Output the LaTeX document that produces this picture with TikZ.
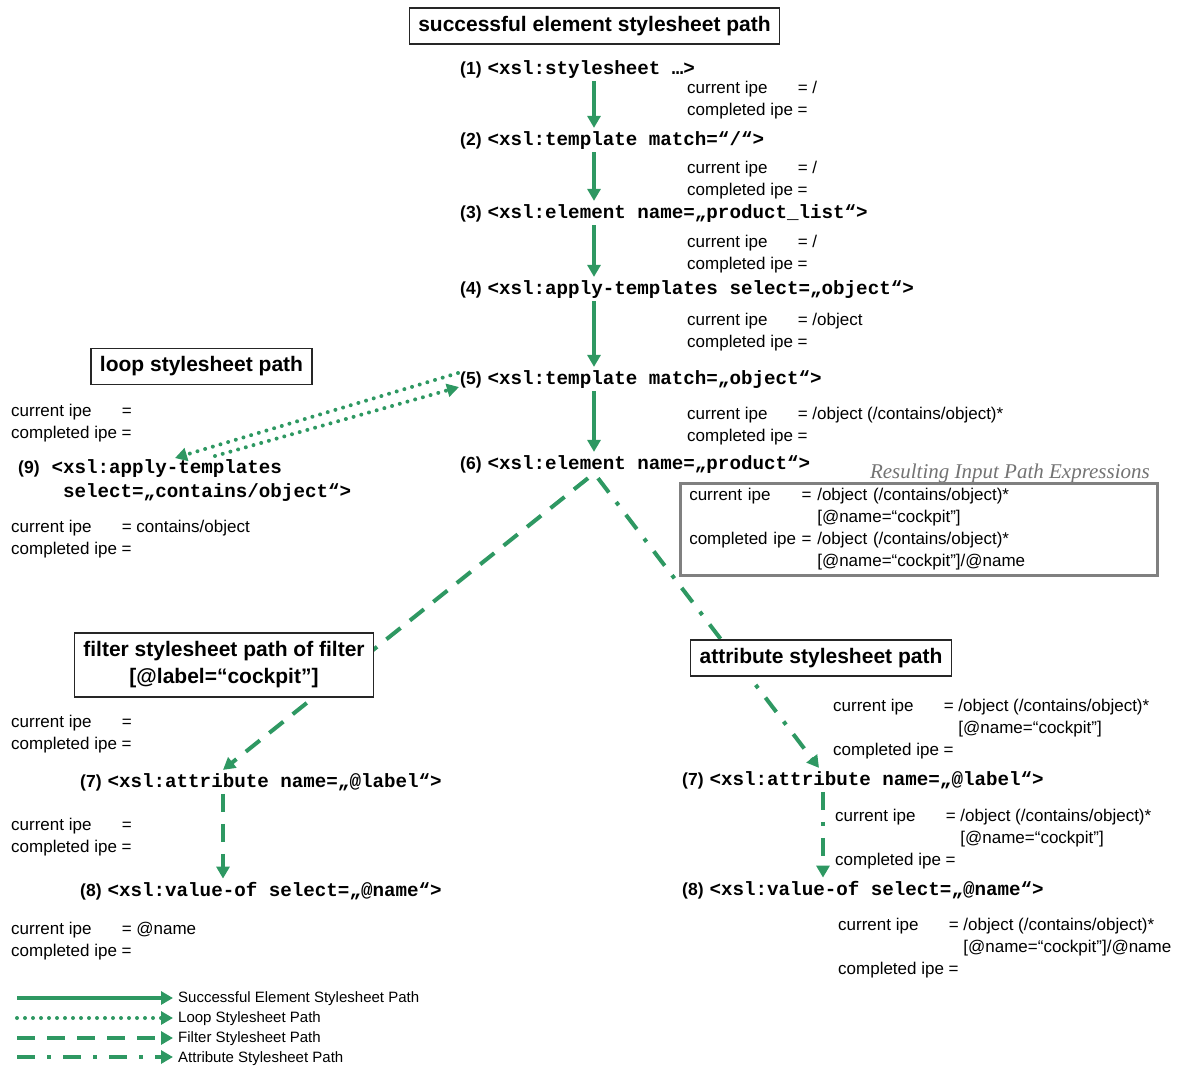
\documentclass[tikz,border=0pt]{standalone}
\usepackage{fontspec}
\setmainfont{Liberation Sans}
\setmonofont{Liberation Mono}
\newfontfamily\resfont{Liberation Serif}
\usepackage{tikz}
\usetikzlibrary{arrows.meta,calc,positioning}
\definecolor{vertchemin}{RGB}{46,152,98}
\newcommand\ipefont{\fontsize{17}{22}\selectfont}
\newcommand\codefont{\fontsize{19.2}{24}\selectfont\ttfamily\bfseries}
\newcommand\titrefont{\fontsize{21}{27}\selectfont\bfseries}
\newcommand\etnum[1]{{\fontsize{17.5}{20}\selectfont\rmfamily\bfseries #1}}
\newcommand\xsl[1]{{\codefont #1}}
\newcommand\ipe[2]{\begin{tabular}[t]{@{}l@{\ }l@{}}current ipe & #1\\completed ipe & #2\end{tabular}}

\begin{document}
\begin{tikzpicture}[x=1pt,y=-1pt,
  code/.style={anchor=base west,inner xsep=0pt,inner ysep=3pt},
  ipe/.style={anchor=base west,inner sep=0pt,font=\ipefont},
  titre/.style={rectangle,draw=black!85,line width=1.2pt,fill=white,font=\titrefont,inner xsep=9pt,minimum height=36pt,align=center},
  legende/.style={anchor=west,inner sep=0pt,font=\fontsize{15}{18}\selectfont},
  fleche/.style={draw=vertchemin,line width=4pt,-{Triangle[length=12pt,width=13pt]}},
  chemin/.style={fleche},
  boucle/.style={fleche,line cap=round,dash pattern=on 0pt off 8pt},
  filtre/.style={fleche,dash pattern=on 18pt off 12pt},
  attribut/.style={fleche,dash pattern=on 18pt off 12pt on 4pt off 12pt}]
\useasboundingbox (0,0) rectangle (1181,1068);

% les instructions xsl
\node (E1) at (460,74) [code] {\etnum{(1)}\hspace{6pt}\xsl{<xsl:stylesheet …>}};
\node (E2) at (460,145) [code] {\etnum{(2)}\hspace{6pt}\xsl{<xsl:template match=“/“>}};
\node (E3) at (460,218) [code] {\etnum{(3)}\hspace{6pt}\xsl{<xsl:element name=„product\_list“>}};
\node (E4) at (460,294) [code] {\etnum{(4)}\hspace{6pt}\xsl{<xsl:apply-templates select=„object“>}};
\node (E5) at (460,384) [code] {\etnum{(5)}\hspace{6pt}\xsl{<xsl:template match=„object“>}};
\node (E6) at (460,469) [code] {\etnum{(6)}\hspace{6pt}\xsl{<xsl:element name=„product“>}};
\node (E9) at (18,473) [code,font=\codefont] {\begin{tabular}[t]{@{}l@{\hspace{12pt}}l@{}}\etnum{(9)} & \xsl{<xsl:apply-templates}\\ & \xsl{\ select=„contains/object“>}\end{tabular}};
\node (E7a) at (80,787) [code] {\etnum{(7)}\hspace{6pt}\xsl{<xsl:attribute name=„@label“>}};
\node (E8a) at (80,896) [code] {\etnum{(8)}\hspace{6pt}\xsl{<xsl:value-of select=„@name“>}};
\node (E7b) at (682,785) [code] {\etnum{(7)}\hspace{6pt}\xsl{<xsl:attribute name=„@label“>}};
\node (E8b) at (682,895) [code] {\etnum{(8)}\hspace{6pt}\xsl{<xsl:value-of select=„@name“>}};

% les expressions ipe
\node (I1) at (687,93) [ipe] {\ipe{= /}{=}};
\node (I2) at (687,173) [ipe] {\ipe{= /}{=}};
\node (I3) at (687,247) [ipe] {\ipe{= /}{=}};
\node (I4) at (687,325) [ipe] {\ipe{= /object}{=}};
\node (I5) at (687,419) [ipe] {\ipe{= /object (/contains/object)*}{=}};
\node (IL1) at (11,416) [ipe] {\ipe{=}{=}};
\node (IL2) at (11,532) [ipe] {\ipe{= contains/object}{=}};
\node (IF1) at (11,727) [ipe] {\ipe{=}{=}};
\node (IF2) at (11,830) [ipe] {\ipe{=}{=}};
\node (IF3) at (11,934) [ipe] {\ipe{= @name}{=}};
\node (IA1) at (833,711) [ipe] {\begin{tabular}[t]{@{}l@{\ }l@{}}current ipe & = /object (/contains/object)*\\ & \phantom{=}\ [@name=“cockpit”]\\completed ipe & =\end{tabular}};
\node (IA2) at (835,821) [ipe] {\begin{tabular}[t]{@{}l@{\ }l@{}}current ipe & = /object (/contains/object)*\\ & \phantom{=}\ [@name=“cockpit”]\\completed ipe & =\end{tabular}};
\node (IA3) at (838,930) [ipe] {\begin{tabular}[t]{@{}l@{\ }l@{}}current ipe & = /object (/contains/object)*\\ & \phantom{=}\ [@name=“cockpit”]/@name\\completed ipe & =\end{tabular}};

% le cadre des expressions resultantes
\node (RES) at (1150,478) [anchor=base east,inner sep=0pt,text=black!55,font=\fontsize{21}{24}\selectfont\resfont\itshape] {Resulting Input Path Expressions};
\node (R) at (679,482) [anchor=north west,draw=black!50,line width=2.5pt,inner xsep=9pt,inner ysep=2pt,text width=459pt,align=left,font=\ipefont] {\begin{tabular}[t]{@{}l@{\ }l@{}}current ipe & = /object (/contains/object)*\\ & \phantom{=}\ [@name=“cockpit”]\\completed ipe & = /object (/contains/object)*\\ & \phantom{=}\ [@name=“cockpit”]/@name\end{tabular}};

% les fleches
\coordinate (axe) at (594,0);
\coordinate (fx) at (223,0);
\coordinate (ax) at (823,0);
\draw[chemin] (E1.south -| axe) -- (E2.north -| axe);
\draw[chemin] (E2.south -| axe) -- (E3.north -| axe);
\draw[chemin] (E3.south -| axe) -- (E4.north -| axe);
\draw[chemin] (E4.south -| axe) -- (E5.north -| axe);
\draw[chemin] (E5.south -| axe) -- (E6.north -| axe);
\draw[boucle] ($(E5.west)+(-2,-6)$) -- ($(E9.north west)+(157,5)$);
\draw[boucle] ($(E9.north west)+(197,3)$) -- ($(E5.west)+(-1,8)$);
\draw[filtre] ($(E6.south west)+(128,2)$) -- (E7a.north -| fx);
\draw[filtre] (E7a.south -| fx) -- (E8a.north -| fx);
\draw[attribut] ($(E6.south west)+(138,2)$) -- ($(E7b.north -| ax)+(-4,0)$);
\draw[attribut] (E7b.south -| ax) -- (E8b.north -| ax);

% les titres (par dessus les fleches)
\node (T1) at (594.5,26) [titre] {successful element stylesheet path};
\node (T2) at (201.5,366.5) [titre] {loop stylesheet path};
\node (T3) at (224,665) [titre,minimum height=64pt] {filter stylesheet path of filter\\{[}@label=“cockpit”]};
\node (T4) at (821,658) [titre] {attribute stylesheet path};

% la legende
\coordinate (g1) at (17,998);
\coordinate (g2) at (17,1018);
\coordinate (g3) at (17,1038);
\coordinate (g4) at (17,1057);
\node (L1) at (178,999) [legende] {Successful Element Stylesheet Path};
\node (L2) at (178,1019) [legende] {Loop Stylesheet Path};
\node (L3) at (178,1039) [legende] {Filter Stylesheet Path};
\node (L4) at (178,1059) [legende] {Attribute Stylesheet Path};
\draw[chemin,shorten >=5pt] (g1) -- (g1 -| L1.west);
\draw[boucle,shorten >=5pt] (g2) -- (g2 -| L2.west);
\draw[filtre,shorten >=5pt] (g3) -- (g3 -| L3.west);
\draw[attribut,shorten >=5pt] (g4) -- (g4 -| L4.west);
\end{tikzpicture}
\end{document}
